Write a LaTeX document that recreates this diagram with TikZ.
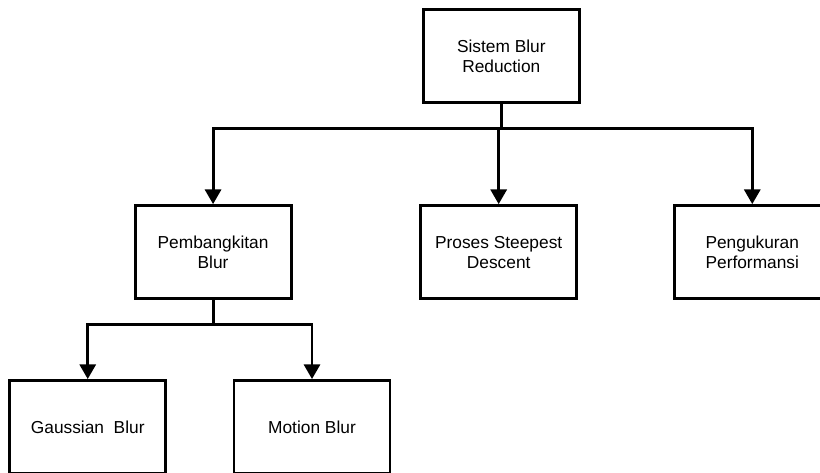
\documentclass[tikz,border=0pt]{standalone}
\usepackage{fontspec}
\setmainfont{Liberation Sans}
\usetikzlibrary{arrows.meta, positioning, calc}
\tikzset{
  >={Triangle[length=11pt, width=12pt]},
  blok/.style={rectangle, draw=black, line width=2.2pt, align=center,
               minimum width=117pt, minimum height=70pt, inner sep=3pt,
               font=\fontsize{13}{15}\selectfont},
  link/.style={line width=2.2pt, draw=black},
  linkarr/.style={link, ->},
}

\begin{document}
\begin{tikzpicture}
    \useasboundingbox (0,0) rectangle (615pt,-354pt);

    % top of the tree
    \node[blok] (sys) at (376pt,-42pt) {Sistem Blur\\Reduction};

    % second level
    \node[blok, below=75pt of sys, xshift=-2pt] (proses) {Proses Steepest\\Descent};
    \node[blok, left=95pt of proses] (pemb) {Pembangkitan\\Blur};
    \node[blok, right=71pt of proses] (peng) {Pengukuran\\Performansi};

    % third level
    \node[blok, below=59pt of pemb, xshift=-94pt] (gauss) {Gaussian\ \ Blur};
    \node[blok, right=49pt of gauss] (motion) {Motion Blur};

    \coordinate (hub1) at ([yshift=-18pt]sys.south);
    \draw[link] (sys.south) -- (hub1);
    \draw[linkarr] (hub1) -| (pemb.north);
    \draw[linkarr] (hub1) -| (peng.north);
    \draw[linkarr] (proses.north |- hub1) -- (proses.north);

    \coordinate (hub2) at ([yshift=-18pt]pemb.south);
    \draw[link] (pemb.south) -- (hub2);
    \draw[linkarr] (hub2) -| (gauss.north);
    \draw[linkarr] (hub2) -| (motion.north);
\end{tikzpicture}
\end{document}
